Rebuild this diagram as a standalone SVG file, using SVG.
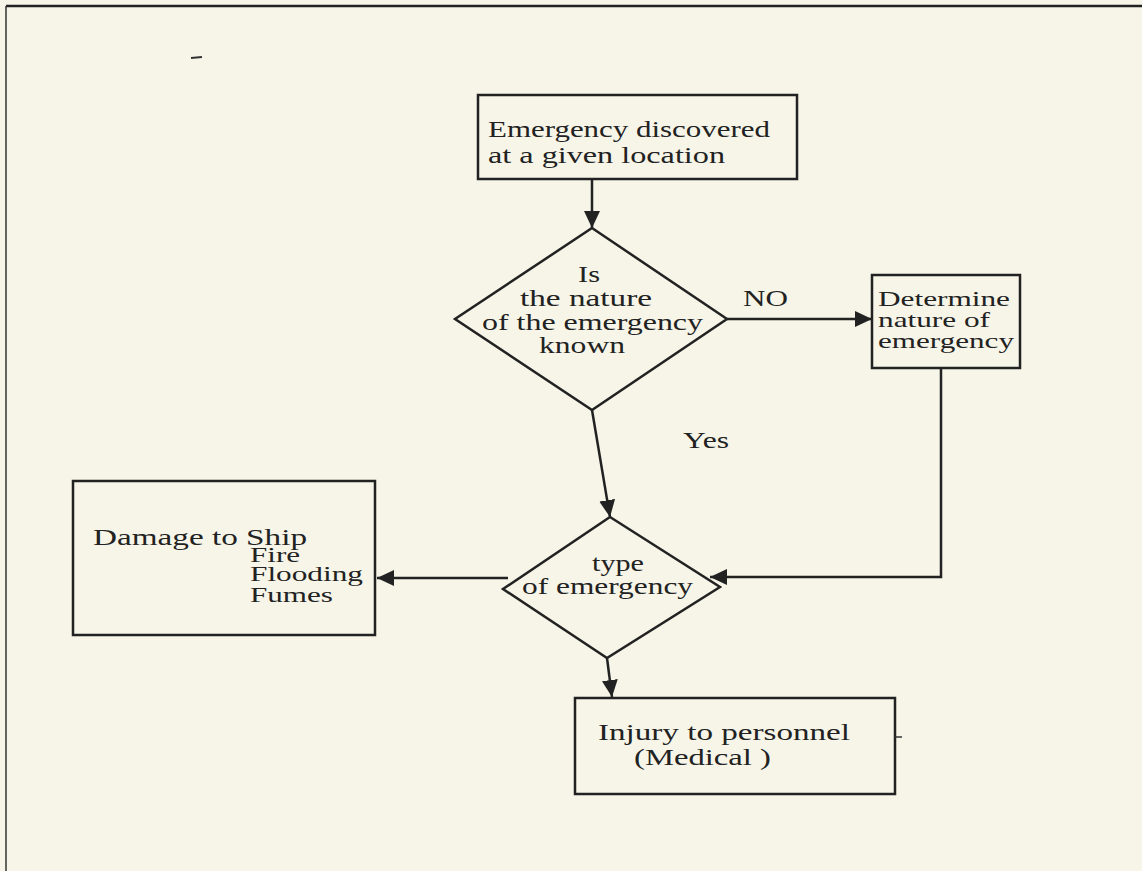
<svg xmlns="http://www.w3.org/2000/svg" width="1142" height="871" viewBox="0 0 1142 871">
<style>
.bg{fill:#f6f5e8}
.box{fill:none;stroke:#222;stroke-width:2.5}
.ln{fill:none;stroke:#222;stroke-width:2.5}
.t{font-family:"Liberation Serif","Times New Roman",serif;font-size:24px;fill:#222}
.s{font-size:22px}
</style>
<defs>
<marker id="ah" markerUnits="userSpaceOnUse" markerWidth="18" markerHeight="16" refX="17" refY="8" orient="auto">
<path d="M0,0 L17,8 L0,16 Z" fill="#222"/>
</marker>
</defs>
<rect class="bg" x="0" y="0" width="1142" height="871"/>
<g id="frame">
<line x1="6" y1="6" x2="1142" y2="6" stroke="#222" stroke-width="2.5"/>
<line x1="6" y1="6" x2="6" y2="871" stroke="#333" stroke-width="1.5"/>
<line x1="191" y1="58" x2="202" y2="57" stroke="#333" stroke-width="2"/>
</g>
<g id="connectors">
<line class="ln" x1="592" y1="179" x2="592" y2="228" marker-end="url(#ah)"/>
<line class="ln" x1="727" y1="319" x2="872" y2="319" marker-end="url(#ah)"/>
<line class="ln" x1="592" y1="410" x2="610" y2="517" marker-end="url(#ah)"/>
<polyline class="ln" points="941,368 941,577 710,577" marker-end="url(#ah)"/>
<line class="ln" x1="508" y1="578" x2="377" y2="578" marker-end="url(#ah)"/>
<line class="ln" x1="607" y1="658" x2="612" y2="697" marker-end="url(#ah)"/>
<text class="t" x="743" y="306" textLength="45" lengthAdjust="spacingAndGlyphs">NO</text>
<text class="t" x="683" y="448" textLength="46" lengthAdjust="spacingAndGlyphs">Yes</text>
</g>
<g id="start">
<rect class="box" x="478" y="95" width="319" height="84"/>
<text class="t" x="488" y="137" textLength="282" lengthAdjust="spacingAndGlyphs">Emergency discovered</text>
<text class="t" x="488" y="163" textLength="237" lengthAdjust="spacingAndGlyphs">at a given location</text>
</g>
<g id="decision1">
<polygon class="box" points="592,228 727,319 592,410 455,319"/>
<text class="t" x="578" y="282" textLength="22" lengthAdjust="spacingAndGlyphs">Is</text>
<text class="t" x="520" y="306" textLength="132" lengthAdjust="spacingAndGlyphs">the nature</text>
<text class="t" x="482" y="330" textLength="221" lengthAdjust="spacingAndGlyphs">of the emergency</text>
<text class="t" x="539" y="353" textLength="86" lengthAdjust="spacingAndGlyphs">known</text>
</g>
<g id="determine">
<rect class="box" x="872" y="275" width="148" height="93"/>
<text class="t s" x="878" y="306" textLength="132" lengthAdjust="spacingAndGlyphs">Determine</text>
<text class="t s" x="878" y="327" textLength="112" lengthAdjust="spacingAndGlyphs">nature of</text>
<text class="t s" x="878" y="348" textLength="136" lengthAdjust="spacingAndGlyphs">emergency</text>
</g>
<g id="decision2">
<polygon class="box" points="610,517 720,587 607,658 503,589"/>
<text class="t" x="592" y="571" textLength="52" lengthAdjust="spacingAndGlyphs">type</text>
<text class="t" x="522" y="594" textLength="171" lengthAdjust="spacingAndGlyphs">of emergency</text>
</g>
<g id="damage">
<rect class="box" x="73" y="481" width="302" height="154"/>
<text class="t" x="93" y="545" textLength="214" lengthAdjust="spacingAndGlyphs">Damage to Ship</text>
<text class="t s" x="250" y="562" textLength="50" lengthAdjust="spacingAndGlyphs">Fire</text>
<text class="t s" x="250" y="581" textLength="113" lengthAdjust="spacingAndGlyphs">Flooding</text>
<text class="t s" x="250" y="602" textLength="83" lengthAdjust="spacingAndGlyphs">Fumes</text>
</g>
<g id="injury">
<rect class="box" x="575" y="698" width="320" height="96"/>
<line x1="895" y1="737" x2="902" y2="737" stroke="#333" stroke-width="1.5"/>
<text class="t" x="598" y="740" textLength="252" lengthAdjust="spacingAndGlyphs">Injury to personnel</text>
<text class="t" x="634" y="765" textLength="137" lengthAdjust="spacingAndGlyphs">(Medical )</text>
</g>
</svg>
